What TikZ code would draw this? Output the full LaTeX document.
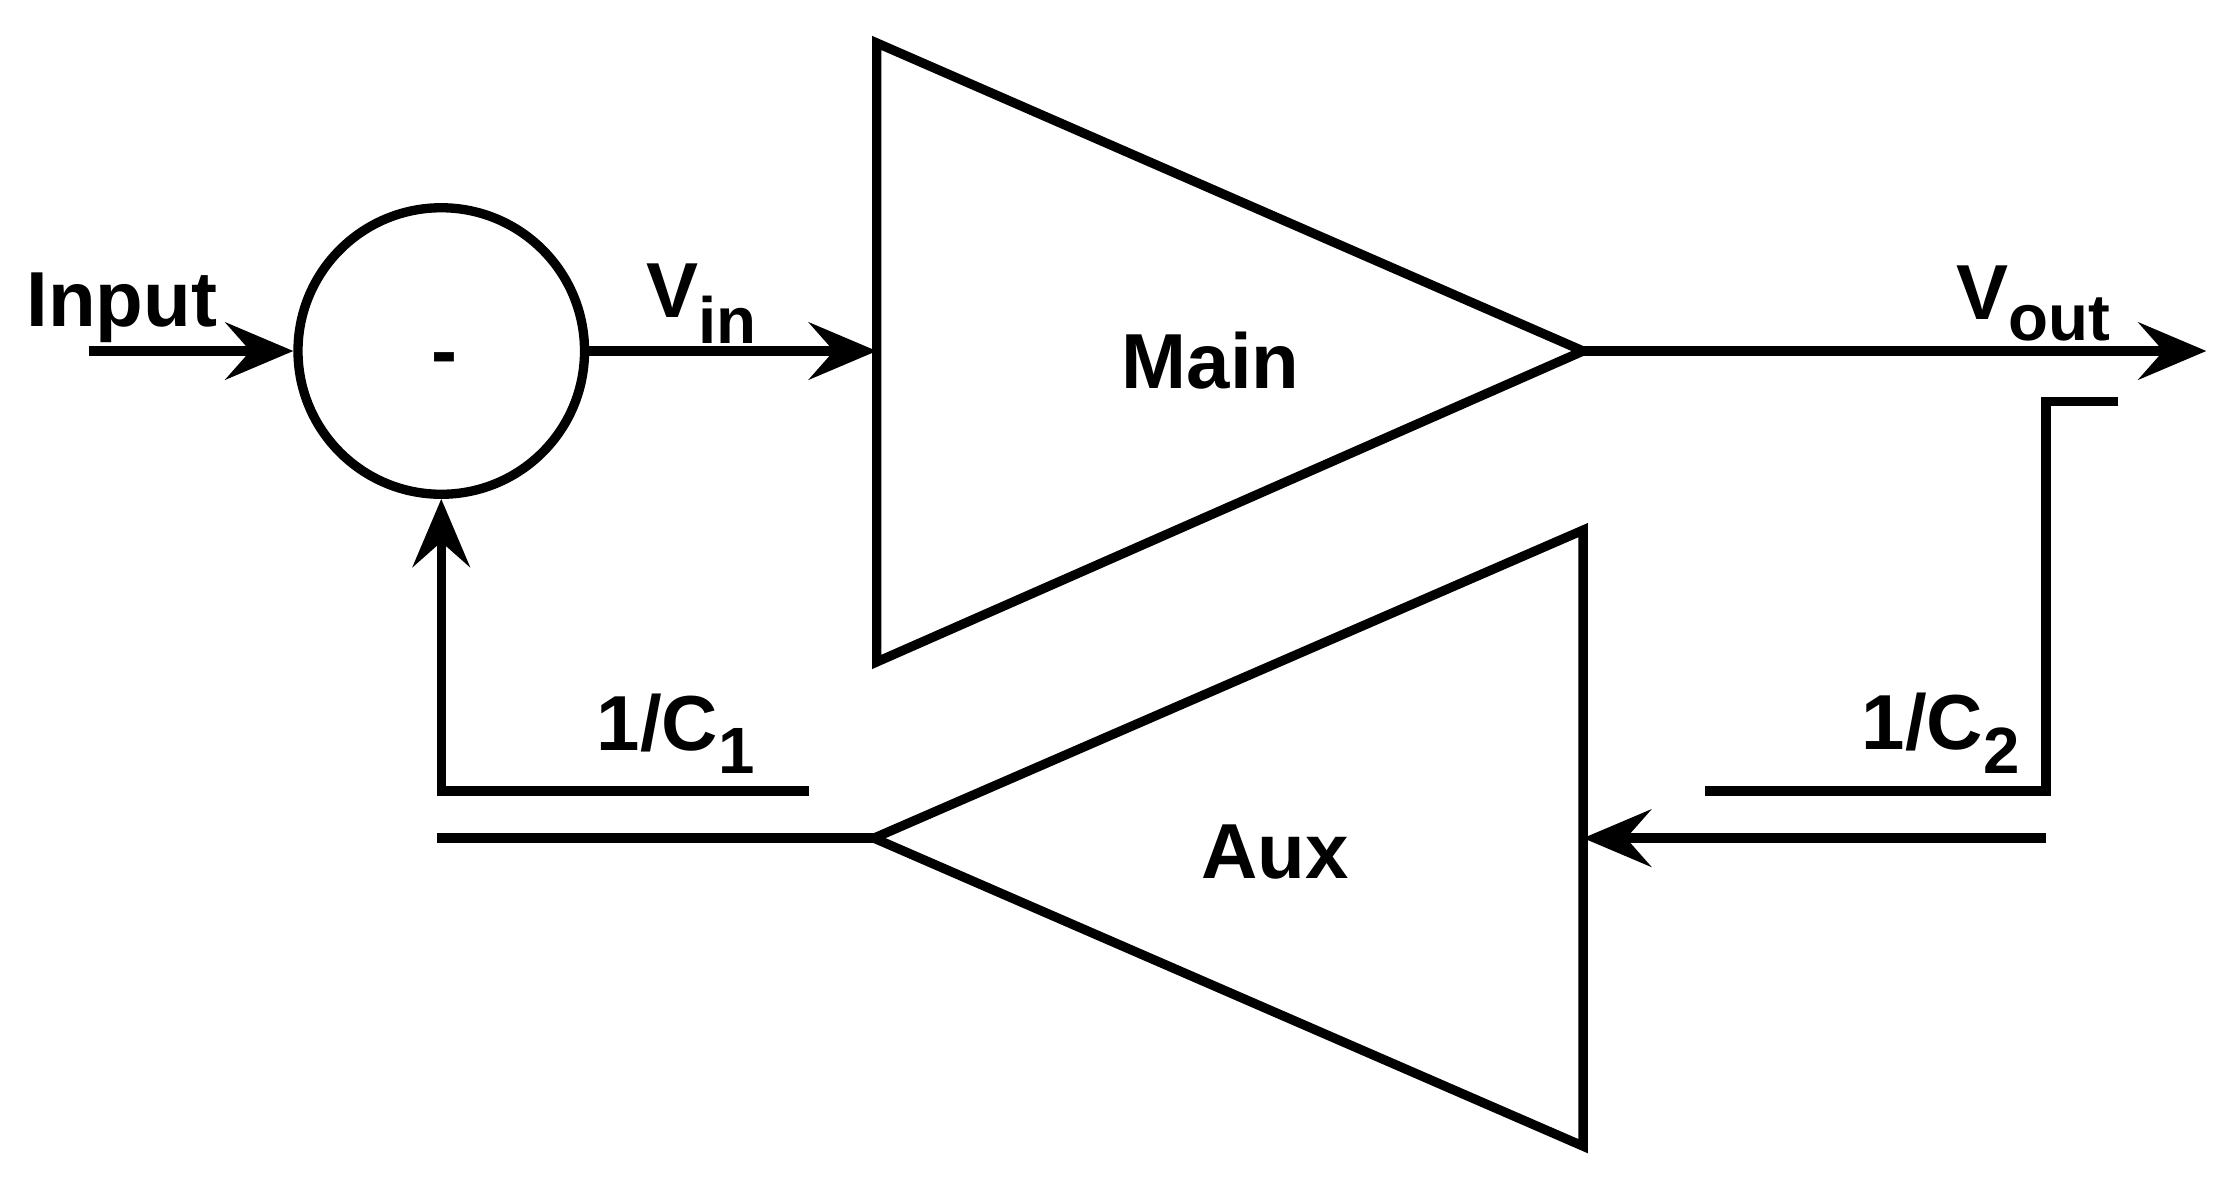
\documentclass[tikz,border=0pt]{standalone}
\usepackage{fontspec}
\setmainfont{Liberation Sans}
\usetikzlibrary{arrows.meta}
\begin{document}
\begin{tikzpicture}[x=0.02cm,y=-0.02cm,line width=0.13cm,
  arr/.style={-{Stealth[length=0.95cm,width=0.8cm,inset=0.35cm]}},
  lbl/.style={font=\fontsize{31}{36}\selectfont\bfseries,inner sep=0pt}]
\useasboundingbox (0,0) rectangle (1560,832);
\coordinate (in) at (62,245);
\node[circle,draw,minimum size=0.02cm*200,inner sep=0pt] (sum) at (308,245) {};
\node[lbl] at (310,255) {-};
\coordinate (m1) at (612,30); \coordinate (m2) at (612,462); \coordinate (mo) at (1105,245);
\draw (m1) -- (m2) -- (mo) -- cycle;
\node[lbl] at (845,252) {Main};
\coordinate (a1) at (1105,370); \coordinate (a2) at (1105,800); \coordinate (ao) at (610,585);
\coordinate (ai) at (1105,585);
\draw (a1) -- (a2) -- (ao) -- cycle;
\node[lbl] at (890,595) {Aux};
\coordinate (out) at (1540,245);
\coordinate (mi) at (612,245);
\draw[arr] (in) -- (sum.west);
\draw[arr] (sum.east) -- (mi);
\draw[arr] (mo) -- (out);
\coordinate (f1) at (1478,280);
\draw (f1) -- (1428,280) -- (1428,552) -- (1190,552);
\coordinate (f2) at (1428,585);
\draw[arr] (f2) -- (ai);
\coordinate (l1) at (305,585);
\draw (ao) -- (l1);
\coordinate (l2) at (565,552);
\draw[arr] (l2) -- (sum.south |- l2) -- (sum.south);
\node[lbl] at (85,215) {Input};
\node[lbl] at (490,212) {V\textsubscript{\fontsize{26}{30}\selectfont in}};
\node[lbl] at (1420,212) {V\textsubscript{\fontsize{26}{30}\selectfont out}};
\node[lbl] at (472,512) {1/C\textsubscript{\fontsize{26}{30}\selectfont 1}};
\node[lbl] at (1355,512) {1/C\textsubscript{\fontsize{26}{30}\selectfont 2}};
\end{tikzpicture}
\end{document}
